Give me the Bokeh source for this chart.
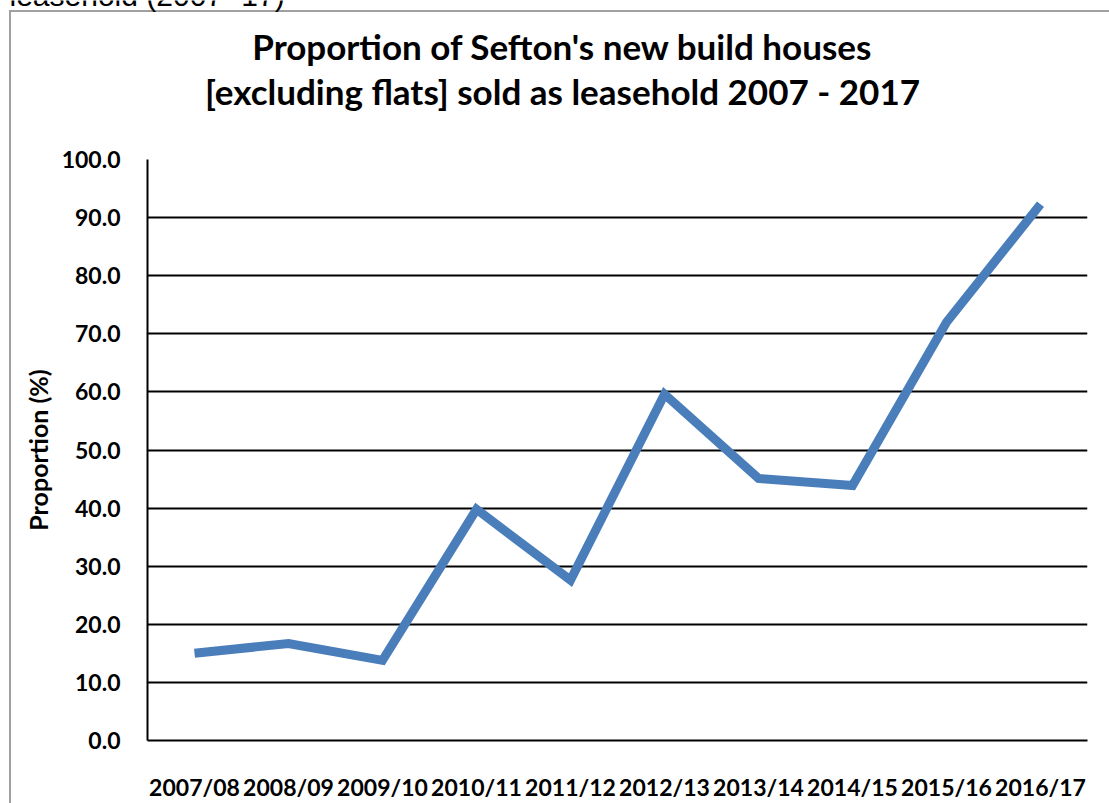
from bokeh.plotting import figure
from bokeh.layouts import column
from bokeh.models import FixedTicker, Range1d
from bokeh.core.properties import value
from bokeh.embed import file_html
from bokeh.resources import INLINE

years = ["2007/08", "2008/09", "2009/10", "2010/11", "2011/12",
         "2012/13", "2013/14", "2014/15", "2015/16", "2016/17"]
proportion = [15.0, 16.7, 13.8, 39.8, 27.6, 59.6, 45.1, 43.9, 72.0, 92.3]
y_ticks = [0, 10, 20, 30, 40, 50, 60, 70, 80, 90, 100]
title_lines = ["Proportion of Sefton's new build houses",
               "[excluding flats] sold as leasehold 2007 - 2017"]
page_fragment = "leasehold (2007- 17)"

FONT = "Lato"
W = 1109
HEAD_H = 145

# ---- header figure (title text, drawn in pixel space) ----
head = figure(width=W, height=HEAD_H, output_backend="svg", toolbar_location=None,
              x_range=Range1d(0, W), y_range=Range1d(HEAD_H, 0),
              min_border=0, x_axis_location=None, y_axis_location=None)
head.grid.visible = False
head.outline_line_color = None
head.background_fill_color = None
head.border_fill_color = None

head.text(x=[562, 562], y=[45, 90], text=title_lines,
          text_align="center", text_baseline="middle",
          text_font=value(FONT), text_font_style="bold",
          text_font_size="35px", text_color="black")
head.text(x=[9], y=[-5], text=[page_fragment], text_align="left",
          text_baseline="alphabetic", text_font=value("Liberation Sans"),
          text_font_size="30px", text_color="black")

# ---- chart figure ----
xs = list(range(len(years)))
p = figure(width=W, height=803 - HEAD_H, output_backend="svg", toolbar_location=None,
           x_range=Range1d(-0.5, len(years) - 0.5), y_range=Range1d(0, 100),
           min_border_left=147, min_border_right=22, min_border_top=159 - HEAD_H,
           min_border_bottom=58)
p.outline_line_color = None
p.background_fill_color = "white"
p.border_fill_color = None

for fig in (head, p):
    if "frame_align" in fig.properties():
        fig.frame_align = False

p.line(xs, proportion, line_color="#4a7ebb", line_width=9, line_join="miter")

p.xaxis.ticker = FixedTicker(ticks=xs)
p.xaxis.major_label_overrides = {i: y for i, y in enumerate(years)}
p.yaxis.ticker = FixedTicker(ticks=y_ticks)
p.yaxis.major_label_overrides = {t: f"{t:.1f}" for t in y_ticks}
for ax in (p.xaxis[0], p.yaxis[0]):
    ax.axis_line_color = "black"
    ax.axis_line_width = 2
    ax.major_tick_line_color = None
    ax.minor_tick_line_color = None
    ax.major_label_text_font = FONT
    ax.major_label_text_font_style = "bold"
    ax.major_label_text_font_size = "23px"
    ax.major_label_text_color = "black"
p.yaxis.major_label_standoff = 21
p.xaxis.major_label_standoff = 26

p.yaxis.axis_label = "Proportion (%)"
p.yaxis.axis_label_text_font = FONT
p.yaxis.axis_label_text_font_style = "bold"
p.yaxis.axis_label_text_font_size = "25px"
p.yaxis.axis_label_text_color = "black"
p.yaxis.axis_label_standoff = 6

p.xgrid.grid_line_color = None
p.ygrid.grid_line_color = "black"
p.ygrid.grid_line_width = 2

layout = column(head, p, spacing=0)
layout.styles = {
    "background-color": "white",
    "background-image": "linear-gradient(#a0a0a0, #a0a0a0), linear-gradient(#a0a0a0, #a0a0a0)",
    "background-size": "2px 100%, 100% 2px",
    "background-position": "9px 10px, 9px 10px",
    "background-repeat": "no-repeat",
}

open("out.html", "w").write(file_html(layout, INLINE))
